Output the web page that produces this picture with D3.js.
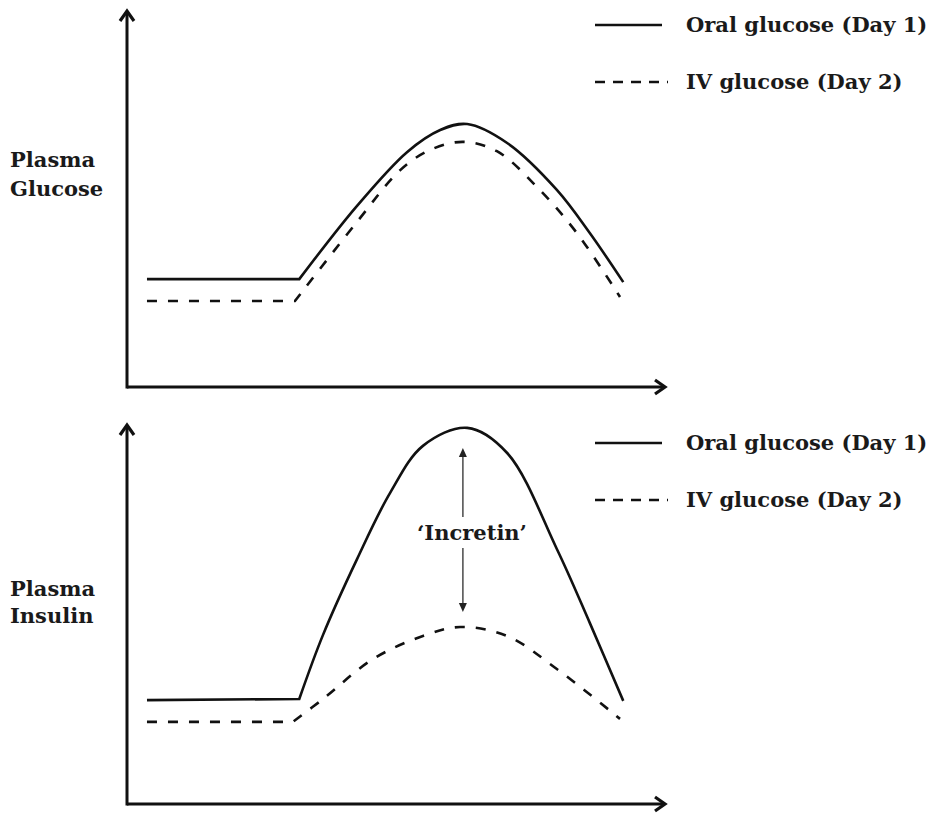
<!DOCTYPE html>
<html>
<head>
<meta charset="utf-8">
<script src="https://cdn.jsdelivr.net/npm/d3@7"></script>
<style>
  body { margin: 0; background: #fff; }
  text { font-family: "DejaVu Serif", Georgia, serif; font-weight: bold; fill: #1a1a1a; }
</style>
</head>
<body>
<svg id="chart" width="936" height="816"></svg>
<script>
// time points (arbitrary units) and levels
// first two points = flat baseline, the rest is the smooth response
var glucoseOralT = [3.7, 31.9, 42.6, 51.9, 58.0, 63.0, 70.4, 79.6, 85.7, 91.9];
var glucoseOralV = [29.0, 29.0, 48.7, 63.2, 69.1, 70.7, 65.6, 53.0, 41.4, 28.2];
var glucoseIvT = [3.7, 31.1, 42.6, 50.6, 56.1, 62.2, 68.5, 75.9, 83.3, 91.3];
var glucoseIvV = [23.1, 23.1, 44.4, 58.3, 63.7, 65.9, 63.4, 53.8, 41.4, 24.2];

var insulinOralT = [3.7, 31.9, 36.3, 42.6, 48.7, 54.8, 63.0, 70.4, 79.6, 85.7, 91.9];
var insulinOralV = [27.7, 28.0, 45.1, 65.3, 82.9, 95.5, 100.3, 93.6, 68.0, 48.3, 27.5];
var insulinIvT = [3.7, 30.7, 36.3, 45.6, 54.8, 61.7, 70.4, 79.6, 91.3];
var insulinIvV = [21.9, 21.9, 28.0, 38.7, 44.8, 47.2, 44.8, 36.0, 22.7];

var legendLabels = ['Oral glucose (Day 1)', 'IV glucose (Day 2)'];
var panelLabels = [['Plasma', 'Glucose'], ['Plasma', 'Insulin']];
var incretinLabel = '\u2018Incretin\u2019';

var svg = d3.select('#chart');

var xScale = d3.scaleLinear().domain([0, 100]).range([127, 667]);
var yTop = d3.scaleLinear().domain([0, 100]).range([387, 15]);
var yBottom = d3.scaleLinear().domain([0, 100]).range([804, 429]);

function zip(ts, vs) {
    return ts.map(function(t, i) { return [t, vs[i]]; });
}

// chevron arrow head at (x,y) pointing dir
function chevron(g, x, y, dir) {
    var p = dir == 'up'
        ? [[x - 7, y + 10], [x, y], [x + 7, y + 10]]
        : [[x - 10, y - 7], [x, y], [x - 10, y + 7]];
    g.append('path')
        .attr('d', d3.line()(p))
        .attr('fill', 'none')
        .attr('stroke', '#111')
        .attr('stroke-width', 3.2)
        .attr('stroke-linejoin', 'miter');
}

function drawPanel(yScale, oral, iv, labels, legendY) {
    var g = svg.append('g');
    var x0 = xScale.range()[0];
    var yBase = yScale.range()[0];

    // axes
    g.append('line')
        .attr('x1', x0).attr('x2', x0)
        .attr('y1', yBase + 1.5).attr('y2', yScale.range()[1] - 3)
        .attr('stroke', '#111').attr('stroke-width', 3);
    g.append('line')
        .attr('x1', x0).attr('x2', 664)
        .attr('y1', yBase).attr('y2', yBase)
        .attr('stroke', '#111').attr('stroke-width', 3);
    chevron(g, x0, yScale.range()[1] - 4, 'up');
    chevron(g, 665, yBase, 'right');

    var flat = d3.line()
        .x(function(d) { return xScale(d[0]); })
        .y(function(d) { return yScale(d[1]); });
    var smooth = d3.line()
        .x(function(d) { return xScale(d[0]); })
        .y(function(d) { return yScale(d[1]); })
        .curve(d3.curveCatmullRom.alpha(0.5));

    // baseline straight, sharp corner, then smooth curve
    function pathFor(pts) {
        return flat(pts.slice(0, 2)) + smooth(pts.slice(1)).replace(/^M/, 'L');
    }

    g.append('path')
        .attr('d', pathFor(oral))
        .attr('fill', 'none')
        .attr('stroke', '#111')
        .attr('stroke-width', 2.6);
    g.append('path')
        .attr('d', pathFor(iv))
        .attr('fill', 'none')
        .attr('stroke', '#111')
        .attr('stroke-width', 2.6)
        .attr('stroke-dasharray', '10,11');

    // y label
    g.append('text')
        .attr('x', 10).attr('y', labels.y)
        .style('font-size', '21px')
        .selectAll('tspan')
        .data(labels.lines)
        .enter()
        .append('tspan')
        .attr('x', 10)
        .attr('dy', function(d, i) { return i == 0 ? 0 : labels.gap; })
        .text(function(d) { return d; });

    // legend
    g.append('line')
        .attr('x1', 595).attr('x2', 662)
        .attr('y1', legendY).attr('y2', legendY)
        .attr('stroke', '#111').attr('stroke-width', 2.6);
    g.append('line')
        .attr('x1', 595).attr('x2', 668)
        .attr('y1', legendY + 57).attr('y2', legendY + 57)
        .attr('stroke', '#111').attr('stroke-width', 2.6)
        .attr('stroke-dasharray', '10,8');
    g.selectAll('.legendText')
        .data(legendLabels)
        .enter()
        .append('text')
        .attr('class', 'legendText')
        .attr('x', 686)
        .attr('y', function(d, i) { return legendY + 7 + i * 57; })
        .style('font-size', '21px')
        .text(function(d) { return d; });
    return g;
}

drawPanel(yTop, zip(glucoseOralT, glucoseOralV), zip(glucoseIvT, glucoseIvV),
    { lines: panelLabels[0], y: 167, gap: 29 }, 25);
var bottom = drawPanel(yBottom, zip(insulinOralT, insulinOralV), zip(insulinIvT, insulinIvV),
    { lines: panelLabels[1], y: 596, gap: 27 }, 443);

// incretin double arrow between the two insulin peaks
var ax = xScale(62.2);
var arrowTop = 448, arrowBottom = 612;
bottom.append('line')
    .attr('x1', ax).attr('x2', ax)
    .attr('y1', arrowTop + 6).attr('y2', 517)
    .attr('stroke', '#555').attr('stroke-width', 1.6);
bottom.append('line')
    .attr('x1', ax).attr('x2', ax)
    .attr('y1', 548).attr('y2', arrowBottom - 6)
    .attr('stroke', '#555').attr('stroke-width', 1.6);
bottom.append('path')
    .attr('d', d3.line()([[ax, arrowTop], [ax - 4, arrowTop + 9], [ax + 4, arrowTop + 9]]) + 'Z')
    .attr('fill', '#222');
bottom.append('path')
    .attr('d', d3.line()([[ax, arrowBottom], [ax - 4, arrowBottom - 9], [ax + 4, arrowBottom - 9]]) + 'Z')
    .attr('fill', '#222');
bottom.append('text')
    .attr('x', 472).attr('y', 540)
    .attr('text-anchor', 'middle')
    .style('font-size', '21px')
    .text(incretinLabel);
</script>
</body>
</html>
